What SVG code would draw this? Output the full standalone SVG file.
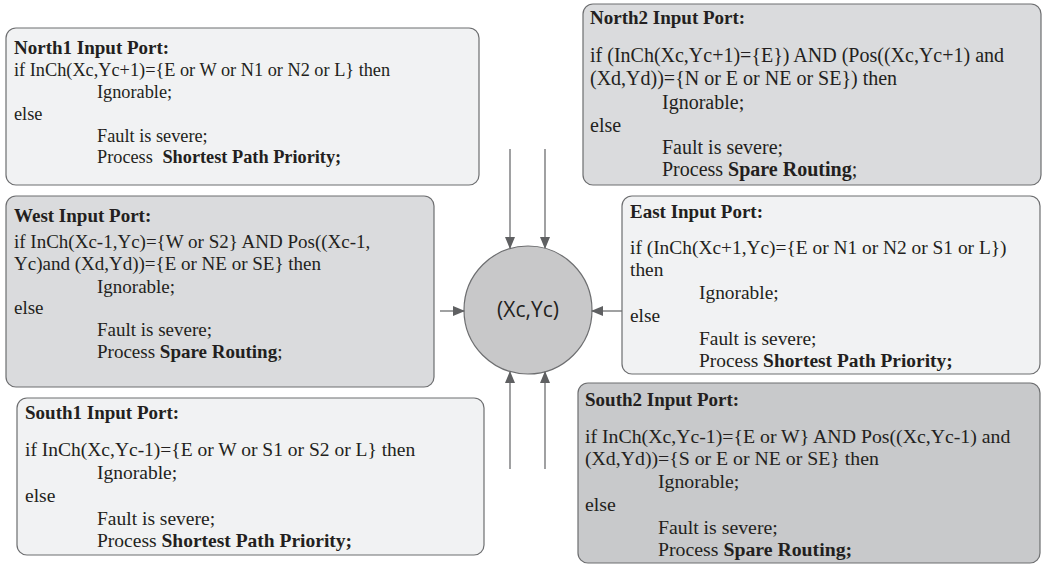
<svg xmlns="http://www.w3.org/2000/svg" width="1044" height="568" viewBox="0 0 1044 568">
<style>
.box{stroke:#6d6e70;stroke-width:1.2}
.light{fill:#f1f2f3}
.mid{fill:#dadbdd}
.dark{fill:#c8c9cb}
text{font-family:"Liberation Serif","Times New Roman",serif;font-size:19px;fill:#231f20}
.b{font-weight:bold}
.t{font-weight:bold;font-size:19px}
.conn{stroke:#6d6e70;stroke-width:1.3;fill:none}
.lbl{font-family:"Open Sans","DejaVu Sans",sans-serif;font-size:21px}
#north1 text{font-size:18.3px}
#south1 text{font-size:19.5px}
#north2 text{font-size:20px}
#east text{font-size:19.4px}
#south2 text{font-size:19.8px}
#north1 text.t,#south1 text.t,#north2 text.t,#east text.t,#south2 text.t{font-size:19px}
</style>
<defs>
<marker id="ah" markerWidth="12" markerHeight="10" refX="11" refY="5" orient="auto" markerUnits="userSpaceOnUse">
<path d="M0,0 L12,5 L0,10 Z" fill="#5f6062"/>
</marker>
</defs>
<rect width="1044" height="568" fill="#ffffff"/>

<g id="north1">
<rect class="box light" x="6" y="28" width="473" height="157" rx="10"/>
<text x="14" y="54" class="t">North1 Input Port:</text>
<text x="14" y="76">if InCh(Xc,Yc+1)={E or W or N1 or N2 or L} then</text>
<text x="97" y="98">Ignorable;</text>
<text x="14" y="120">else</text>
<text x="97" y="142">Fault is severe;</text>
<text x="97" y="163">Process <tspan class="b" dx="5">Shortest Path Priority;</tspan></text>
</g>

<g id="west">
<rect class="box mid" x="6" y="196" width="428" height="191" rx="10"/>
<text x="14" y="222" class="t">West Input Port:</text>
<text x="14" y="248">if InCh(Xc-1,Yc)={W or S2} AND Pos((Xc-1,</text>
<text x="14" y="270">Yc)and (Xd,Yd))={E or NE or SE} then</text>
<text x="97" y="293">Ignorable;</text>
<text x="14" y="314">else</text>
<text x="97" y="336">Fault is severe;</text>
<text x="97" y="358">Process <tspan class="b">Spare Routing</tspan>;</text>
</g>

<g id="south1">
<rect class="box light" x="17" y="398" width="467" height="157" rx="10"/>
<text x="25" y="419" class="t">South1 Input Port:</text>
<text x="25" y="456">if InCh(Xc,Yc-1)={E or W or S1 or S2 or L} then</text>
<text x="97" y="479">Ignorable;</text>
<text x="25" y="502">else</text>
<text x="97" y="525">Fault is severe;</text>
<text x="97" y="547">Process <tspan class="b">Shortest Path Priority;</tspan></text>
</g>

<g id="north2">
<rect class="box mid" x="583" y="4" width="458" height="181" rx="10"/>
<text x="590" y="24" class="t">North2 Input Port:</text>
<text x="590" y="62">if (InCh(Xc,Yc+1)={E}) AND (Pos((Xc,Yc+1) and</text>
<text x="590" y="85">(Xd,Yd))={N or E or NE or SE}) then</text>
<text x="662" y="109">Ignorable;</text>
<text x="590" y="132">else</text>
<text x="662" y="154">Fault is severe;</text>
<text x="662" y="176">Process <tspan class="b">Spare Routing</tspan>;</text>
</g>

<g id="east">
<rect class="box light" x="622" y="196" width="418" height="178" rx="10"/>
<text x="630" y="218" class="t">East Input Port:</text>
<text x="630" y="254">if (InCh(Xc+1,Yc)={E or N1 or N2 or S1 or L})</text>
<text x="630" y="276">then</text>
<text x="699" y="299">Ignorable;</text>
<text x="630" y="322">else</text>
<text x="699" y="345">Fault is severe;</text>
<text x="699" y="367">Process <tspan class="b">Shortest Path Priority;</tspan></text>
</g>

<g id="south2">
<rect class="box dark" x="578" y="383" width="462" height="180" rx="10"/>
<text x="585" y="406" class="t">South2 Input Port:</text>
<text x="585" y="443">if InCh(Xc,Yc-1)={E or W} AND Pos((Xc,Yc-1) and</text>
<text x="585" y="465">(Xd,Yd))={S or E or NE or SE} then</text>
<text x="658" y="488">Ignorable;</text>
<text x="585" y="511">else</text>
<text x="658" y="534">Fault is severe;</text>
<text x="658" y="556">Process <tspan class="b">Spare Routing;</tspan></text>
</g>

<g id="node-center">
<circle cx="528" cy="310" r="64" fill="#c8c8c9" stroke="#6d6e70" stroke-width="1.2"/>
<text x="528" y="317" text-anchor="middle" class="lbl">(Xc,Yc)</text>
</g>

<g id="connectors">
<line class="conn" x1="510" y1="149" x2="510" y2="248" marker-end="url(#ah)"/>
<line class="conn" x1="545" y1="149" x2="545" y2="248" marker-end="url(#ah)"/>
<line class="conn" x1="510" y1="469" x2="510" y2="372" marker-end="url(#ah)"/>
<line class="conn" x1="545" y1="469" x2="545" y2="372" marker-end="url(#ah)"/>
<line class="conn" x1="440" y1="311" x2="464" y2="311" marker-end="url(#ah)"/>
<line class="conn" x1="622" y1="311" x2="592" y2="311" marker-end="url(#ah)"/>
</g>
</svg>
